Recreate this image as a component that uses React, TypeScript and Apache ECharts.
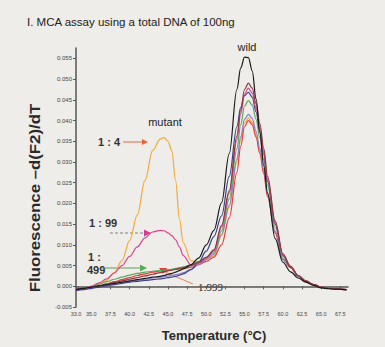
import React, { useEffect, useRef } from "react";
import * as echarts from "echarts";

// Temperature grid (°C)
const temps = [33, 34, 35, 36, 37, 38, 39, 40, 41, 42, 43, 44, 44.5, 45, 45.5, 46, 46.5, 47, 48, 49, 50, 51, 52, 53, 54, 54.5, 55, 55.5, 56, 56.5, 57, 57.5, 58, 59, 60, 61, 62, 63, 64, 65, 66, 67, 68.3];

// -d(F2)/dT values
const wild = [-0.0008, -0.0005, -0.0002, 0.0001, 0.0004, 0.0007, 0.001, 0.0013, 0.0016, 0.0019, 0.0022, 0.0024, 0.0026, 0.0029, 0.0031, 0.0034, 0.0038, 0.0042, 0.0052, 0.0068, 0.01, 0.0135, 0.0202, 0.032, 0.0475, 0.0527, 0.0553, 0.0552, 0.052, 0.0452, 0.037, 0.0292, 0.0225, 0.0115, 0.0058, 0.0035, 0.002, 0.001, 0.0002, -0.0004, -0.0006, -0.0007, -0.0008];
const maroon = [-0.0008, -0.0005, -0.0002, 0.0001, 0.0005, 0.0009, 0.0013, 0.0017, 0.0021, 0.0025, 0.0029, 0.0033, 0.0035, 0.0037, 0.0039, 0.0041, 0.0043, 0.0045, 0.005, 0.0058, 0.007, 0.0088, 0.0147, 0.023, 0.0363, 0.0426, 0.0475, 0.049, 0.0478, 0.0441, 0.0392, 0.0333, 0.0265, 0.0157, 0.0078, 0.0048, 0.0026, 0.0013, 0.0004, -0.0002, -0.0005, -0.0007, -0.0008];
const ratio1to99 = [-0.0008, -0.0005, 0.0, 0.0008, 0.0018, 0.0032, 0.005, 0.0072, 0.0095, 0.0117, 0.0131, 0.0135, 0.0134, 0.0129, 0.0122, 0.0112, 0.0095, 0.0074, 0.0052, 0.0055, 0.0068, 0.0086, 0.0143, 0.0225, 0.0354, 0.0416, 0.0464, 0.0478, 0.0466, 0.043, 0.0382, 0.0325, 0.0258, 0.0153, 0.0076, 0.0048, 0.0026, 0.0013, 0.0004, -0.0002, -0.0005, -0.0007, -0.0008];
const navy = [-0.001, -0.0008, -0.0005, -0.0002, 0.0001, 0.0004, 0.0007, 0.001, 0.0012, 0.0014, 0.0016, 0.0018, 0.0019, 0.0021, 0.0022, 0.0024, 0.0027, 0.003, 0.004, 0.0058, 0.0085, 0.012, 0.017, 0.0265, 0.0385, 0.0432, 0.046, 0.0468, 0.0456, 0.0421, 0.0374, 0.0318, 0.0253, 0.015, 0.0075, 0.0047, 0.0025, 0.0012, 0.0004, -0.0002, -0.0005, -0.0007, -0.0008];
const ratio1to499 = [-0.0008, -0.0004, 0.0, 0.0005, 0.0011, 0.0017, 0.0022, 0.0027, 0.0031, 0.0034, 0.0036, 0.0038, 0.0039, 0.004, 0.0041, 0.0043, 0.0045, 0.0047, 0.0052, 0.006, 0.007, 0.0081, 0.0134, 0.0211, 0.0332, 0.039, 0.0435, 0.0448, 0.0437, 0.0403, 0.0358, 0.0305, 0.0242, 0.0143, 0.0072, 0.0047, 0.0026, 0.0013, 0.0004, -0.0002, -0.0005, -0.0007, -0.0008];
const purple = [-0.0009, -0.0006, -0.0003, 0.0, 0.0003, 0.0006, 0.0009, 0.0012, 0.0015, 0.0017, 0.002, 0.0022, 0.0023, 0.0025, 0.0026, 0.0028, 0.003, 0.0033, 0.0041, 0.0052, 0.0065, 0.0077, 0.0125, 0.0195, 0.0307, 0.0361, 0.0403, 0.0415, 0.0405, 0.0374, 0.0332, 0.0282, 0.0224, 0.0133, 0.0066, 0.0046, 0.0025, 0.0012, 0.0004, -0.0002, -0.0005, -0.0007, -0.0008];
const ratio1to4 = [-0.0009, -0.0006, -0.0002, 0.0005, 0.0014, 0.0033, 0.0062, 0.011, 0.0172, 0.0255, 0.0328, 0.0355, 0.0359, 0.035, 0.0327, 0.0255, 0.0162, 0.0105, 0.0062, 0.0056, 0.0064, 0.0073, 0.0122, 0.0191, 0.03, 0.0353, 0.0394, 0.0406, 0.0396, 0.0365, 0.0325, 0.0276, 0.0219, 0.013, 0.0065, 0.0046, 0.0025, 0.0012, 0.0004, -0.0002, -0.0005, -0.0007, -0.0008];
const ratio1to999 = [-0.001, -0.0007, -0.0003, 0.0001, 0.0006, 0.0011, 0.0016, 0.0021, 0.0026, 0.003, 0.0034, 0.0037, 0.0038, 0.0039, 0.004, 0.0041, 0.0042, 0.0043, 0.0046, 0.0052, 0.006, 0.007, 0.01, 0.0165, 0.0275, 0.0338, 0.0385, 0.04, 0.039, 0.036, 0.032, 0.0272, 0.0216, 0.0128, 0.0064, 0.0045, 0.0025, 0.0012, 0.0004, -0.0002, -0.0005, -0.0007, -0.0008];

const xTickValues = [33, 35, 37.5, 40, 42.5, 45, 47.5, 50, 52.5, 55, 57.5, 60, 62.5, 65, 67.5];
const yTickValues = [-0.005, 0, 0.005, 0.01, 0.015, 0.02, 0.025, 0.03, 0.035, 0.04, 0.045, 0.05, 0.055];

const seriesDefs = [
  { name: "1:4", data: ratio1to4, color: "#f0aa3a" },
  { name: "1:999", data: ratio1to999, color: "#e23c3c" },
  { name: "purple", data: purple, color: "#8a7cc8" },
  { name: "1:499", data: ratio1to499, color: "#5aa85a" },
  { name: "navy", data: navy, color: "#3b408f" },
  { name: "1:99", data: ratio1to99, color: "#d9468e" },
  { name: "maroon", data: maroon, color: "#8a3b3b" },
  { name: "wild", data: wild, color: "#1a1a1a" },
];

const bold = "Liberation Sans, Arial, sans-serif";

export default function App() {
  const ref = useRef<HTMLDivElement>(null);
  useEffect(() => {
    if (!ref.current) return;
    const chart = echarts.init(ref.current, undefined, { renderer: "svg" });
    chart.setOption({
      animation: false,
      backgroundColor: "#eeede9",
      grid: { left: 76, right: 37, top: 48, bottom: 40 },
      xAxis: {
        type: "value",
        min: 33,
        max: 68.5,
        splitLine: { show: false },
        axisLine: { lineStyle: { color: "#555", width: 1.5 } },
        axisTick: { customValues: xTickValues, length: 3, lineStyle: { color: "#555" } },
        axisLabel: {
          customValues: xTickValues,
          formatter: (v: number) => v.toFixed(1),
          fontSize: 5.5,
          color: "#444",
          margin: 4,
          fontFamily: bold,
        },
      },
      yAxis: {
        type: "value",
        min: -0.005,
        max: 0.0575,
        splitLine: { show: false },
        axisLine: { show: true, onZero: false, lineStyle: { color: "#555", width: 1.5 } },
        axisTick: { show: true, customValues: yTickValues, length: 3, lineStyle: { color: "#555" } },
        axisLabel: {
          customValues: yTickValues,
          formatter: (v: number) => v.toFixed(3),
          fontSize: 6,
          color: "#444",
          margin: 4,
          fontFamily: bold,
        },
      },
      series: seriesDefs.map((s) => ({
        name: s.name,
        type: "line",
        data: temps.map((t, i) => [t, s.data[i]]),
        showSymbol: false,
        smooth: 0.35,
        smoothMonotone: "x",
        lineStyle: { color: s.color, width: 1.2 },
        itemStyle: { color: s.color },
      })),
      graphic: [
        {
          type: "text", x: 27, y: 21.5,
          style: { text: "I. MCA assay using a total DNA of 100ng", font: `11.5px ${bold}`, fill: "#222", verticalAlign: "middle" },
        },
        {
          type: "text", x: 35, y: 198, rotation: Math.PI / 2, scaleX: 1.2,
          style: { text: "Fluorescence –d(F2)/dT", font: `bold 14px ${bold}`, fill: "#2a2a2a", align: "center", verticalAlign: "middle" },
        },
        {
          type: "text", x: 214, y: 335,
          style: { text: "Temperature (°C)", font: `bold 13px ${bold}`, fill: "#2a2a2a", align: "center", verticalAlign: "middle" },
        },
        { type: "text", x: 247, y: 47, style: { text: "wild", font: `11px ${bold}`, fill: "#222", align: "center", verticalAlign: "middle" } },
        { type: "text", x: 165, y: 122, style: { text: "mutant", font: `11px ${bold}`, fill: "#222", align: "center", verticalAlign: "middle" } },
        { type: "text", x: 98, y: 142, style: { text: "1 : 4", font: `bold 11px ${bold}`, fill: "#333", verticalAlign: "middle" } },
        { type: "line", shape: { x1: 123, y1: 142, x2: 143, y2: 142 }, style: { stroke: "#e8643c", lineWidth: 1 } },
        { type: "polygon", shape: { points: [[142, 139], [148, 142], [142, 145]] }, style: { fill: "#e8643c" } },
        { type: "text", x: 89, y: 223, style: { text: "1 : 99", font: `bold 11px ${bold}`, fill: "#333", verticalAlign: "middle" } },
        { type: "line", shape: { x1: 110, y1: 233, x2: 145, y2: 233 }, style: { stroke: "#808080", lineWidth: 1, lineDash: [3, 2] } },
        { type: "polygon", shape: { points: [[144, 229.5], [151, 233], [144, 236.5]] }, style: { fill: "#d63c96" } },
        { type: "text", x: 88, y: 257, style: { text: "1 :", font: `bold 11px ${bold}`, fill: "#333", verticalAlign: "middle" } },
        { type: "text", x: 87, y: 270, style: { text: "499", font: `bold 11px ${bold}`, fill: "#333", verticalAlign: "middle" } },
        { type: "line", shape: { x1: 101, y1: 268, x2: 141, y2: 268 }, style: { stroke: "#5aa05a", lineWidth: 1 } },
        { type: "polygon", shape: { points: [[140, 264.5], [147, 268], [140, 271.5]] }, style: { fill: "#5aaa5a" } },
        { type: "text", x: 198, y: 287, style: { text: "1:999", font: "11px Liberation Serif, Times New Roman, serif", fill: "#222", verticalAlign: "middle" } },
        { type: "line", shape: { x1: 193, y1: 284, x2: 165, y2: 272 }, style: { stroke: "#e8906a", lineWidth: 1.2 } },
        { type: "polygon", shape: { points: [[159, 268], [167, 268], [163, 274]] }, style: { fill: "#e03a3a" } },
      ],
    });
    return () => chart.dispose();
  }, []);
  return (
    <div
      ref={ref}
      style={{ position: "absolute", left: 0, top: 0, width: 385, height: 347, background: "#eeede9" }}
    />
  );
}
